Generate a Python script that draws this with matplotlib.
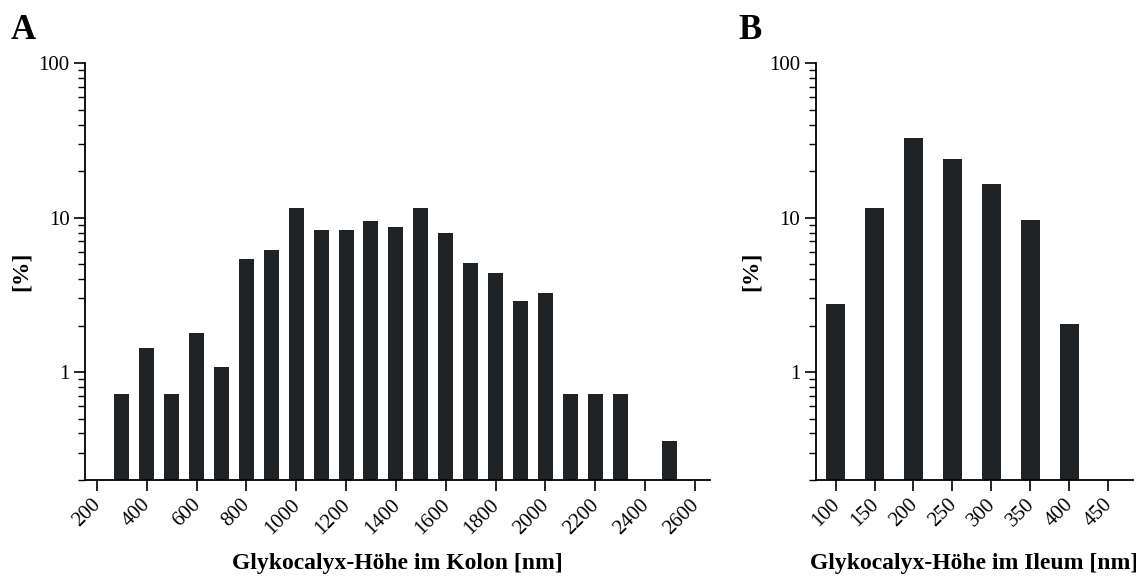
import matplotlib
matplotlib.use("Agg")
import matplotlib.pyplot as plt
import matplotlib.transforms as mtrans
from matplotlib.ticker import FixedLocator, LogLocator, NullFormatter

plt.rcParams['font.family'] = ['Liberation Serif', 'DejaVu Serif']

# Kolon: bin centres (nm) and share (%)
kolon_x = [300, 400, 500, 600, 700, 800, 900, 1000, 1100, 1200, 1300, 1400,
           1500, 1600, 1700, 1800, 1900, 2000, 2100, 2200, 2300, 2500]
kolon_pct = [0.72, 1.44, 0.72, 1.80, 1.08, 5.40, 6.14, 11.5, 8.3, 8.3, 9.45, 8.65,
             11.5, 7.95, 5.05, 4.35, 2.9, 3.27, 0.72, 0.72, 0.72, 0.36]
kolon_ticks = [200, 400, 600, 800, 1000, 1200, 1400, 1600, 1800, 2000, 2200, 2400, 2600]

# Ileum
ileum_x = [100, 150, 200, 250, 300, 350, 400]
ileum_pct = [2.74, 11.6, 32.8, 24.0, 16.4, 9.58, 2.05]
ileum_ticks = [100, 150, 200, 250, 300, 350, 400, 450]

barcol = '#1f2326'

fig = plt.figure(figsize=(11.36, 5.79), dpi=100)
axA = fig.add_axes([0.0748, 0.171, 0.550, 0.720])
axB = fig.add_axes([0.718, 0.171, 0.279, 0.720])


def style(ax, ticks, xlabel):
    ax.set_yscale('log')
    ax.set_ylim(0.2, 100)
    ax.yaxis.set_major_locator(FixedLocator([1, 10, 100]))
    ax.yaxis.set_major_formatter(plt.FuncFormatter(lambda v, p: '%g' % v))
    ax.yaxis.set_minor_locator(LogLocator(base=10, subs=range(2, 10)))
    ax.yaxis.set_minor_formatter(NullFormatter())
    ax.spines['top'].set_visible(False)
    ax.spines['right'].set_visible(False)
    ax.spines['left'].set_linewidth(1.3)
    ax.spines['bottom'].set_linewidth(1.3)
    ax.set_xticks(ticks)
    ax.set_xticklabels([str(t) for t in ticks], rotation=45, ha='right',
                       rotation_mode='anchor', fontsize=15)
    ax.tick_params(axis='both', which='major', direction='out', length=8,
                   width=1.2, labelsize=15, pad=3)
    ax.tick_params(axis='y', which='minor', direction='out', length=5, width=1.0)
    # nudge rotated labels a little to the left like the original
    off = mtrans.ScaledTranslation(-4 / 72, 0, fig.dpi_scale_trans)
    for lab in ax.get_xticklabels():
        lab.set_transform(lab.get_transform() + off)
    ax.set_xlabel(xlabel, fontsize=17, fontweight='bold')
    ax.xaxis.set_label_coords(0.5, -0.175)
    ax.set_ylabel('[%]', fontsize=17, fontweight='bold')


axA.bar(kolon_x, kolon_pct, width=60, color=barcol)
axA.set_xlim(152, 2660)
style(axA, kolon_ticks, 'Glykocalyx-Höhe im Kolon [nm]')
axA.yaxis.set_label_coords(-0.085, 0.5)

axB.bar(ileum_x, ileum_pct, width=24, color=barcol)
axB.set_xlim(74.5, 481)
style(axB, ileum_ticks, 'Glykocalyx-Höhe im Ileum [nm]')
axB.yaxis.set_label_coords(-0.17, 0.5)

fig.text(0.009, 0.932, 'A', fontsize=25, fontweight='bold')
fig.text(0.650, 0.932, 'B', fontsize=25, fontweight='bold')

fig.savefig('out.png', dpi=100)
